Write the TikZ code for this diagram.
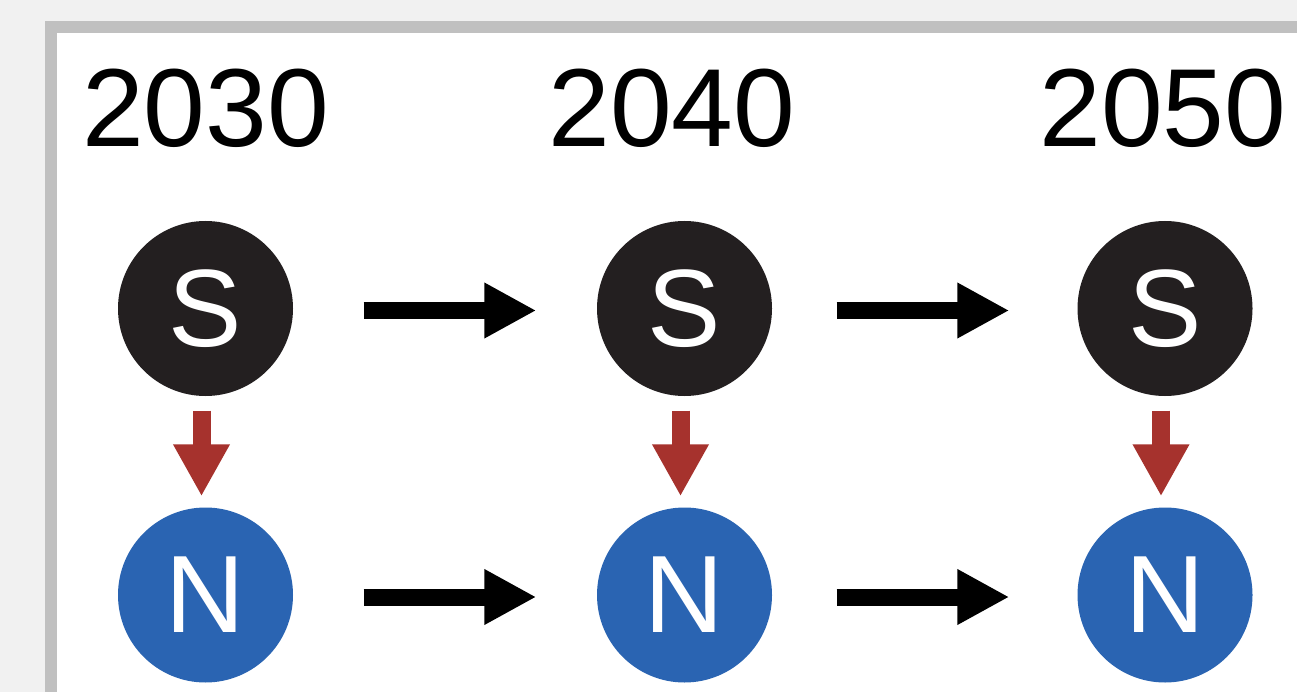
\documentclass[tikz,border=0pt]{standalone}
\usepackage{fontspec}
\setmainfont{Liberation Sans}
\usetikzlibrary{arrows.meta}

\definecolor{pagebg}{RGB}{241,241,241}
\definecolor{frame}{RGB}{192,192,192}
\definecolor{sfill}{RGB}{35,31,32}
\definecolor{nfill}{RGB}{42,100,178}
\definecolor{linkred}{RGB}{166,50,45}

\tikzset{
  yearlabel/.style={inner sep=0pt, anchor=base, font=\fontsize{111}{111}\selectfont, text=black},
  statenode/.style={circle, minimum size=175pt, inner sep=0pt, text=white,
                    font=\fontsize{110}{110}\selectfont},
  snode/.style={statenode, fill=sfill},
  nnode/.style={statenode, fill=nfill},
  timearrow/.style={line width=17pt, draw=black,
                    -{Triangle[length=52pt, width=52pt]}},
  linkarrow/.style={line width=18pt, draw=linkred,
                    -{Triangle[length=52pt, width=53pt]}}
}

\begin{document}
\begin{tikzpicture}[x=1pt, y={(0pt,-1pt)}]
  \useasboundingbox (0,0) rectangle (1297,692);
  % page and framed panel
  \fill[pagebg] (0,0) rectangle (1297,692);
  \fill[frame] (45,21) rectangle (1320,720);
  \fill[white] (57,33) rectangle (1320,720);

  % years
  \node[yearlabel] (y1) at (205.5,147) {2030};
  \node[yearlabel] (y2) at (672,147) {2040};
  \node[yearlabel] (y3) at (1163,147) {2050};

  % state nodes
  \node[snode] (s1) at (205.5,308.5) {S};
  \node[snode] (s2) at (684.5,308.5) {S};
  \node[snode] (s3) at (1165,308.5) {S};
  \node[nnode] (n1) at (205.5,595) {N};
  \node[nnode] (n2) at (684.5,595) {N};
  \node[nnode] (n3) at (1165,595) {N};

  % transitions over time
  \draw[timearrow, shorten <=70.5pt, shorten >=60.5pt]
    ([yshift=-2pt]s1.east) -- ([yshift=-2pt]s2.west);
  \draw[timearrow, shorten <=64.5pt, shorten >=68pt]
    ([yshift=-2pt]s2.east) -- ([yshift=-2pt]s3.west);
  \draw[timearrow, shorten <=70.5pt, shorten >=60.5pt]
    ([yshift=-2pt]n1.east) -- ([yshift=-2pt]n2.west);
  \draw[timearrow, shorten <=64.5pt, shorten >=68pt]
    ([yshift=-2pt]n2.east) -- ([yshift=-2pt]n3.west);

  % S drives N
  \draw[linkarrow, shorten <=14.5pt, shorten >=11pt]
    ([xshift=-4pt]s1.south) -- ([xshift=-4pt]n1.north);
  \draw[linkarrow, shorten <=14.5pt, shorten >=11pt]
    ([xshift=-4pt]s2.south) -- ([xshift=-4pt]n2.north);
  \draw[linkarrow, shorten <=14.5pt, shorten >=11pt]
    ([xshift=-4pt]s3.south) -- ([xshift=-4pt]n3.north);
\end{tikzpicture}
\end{document}
